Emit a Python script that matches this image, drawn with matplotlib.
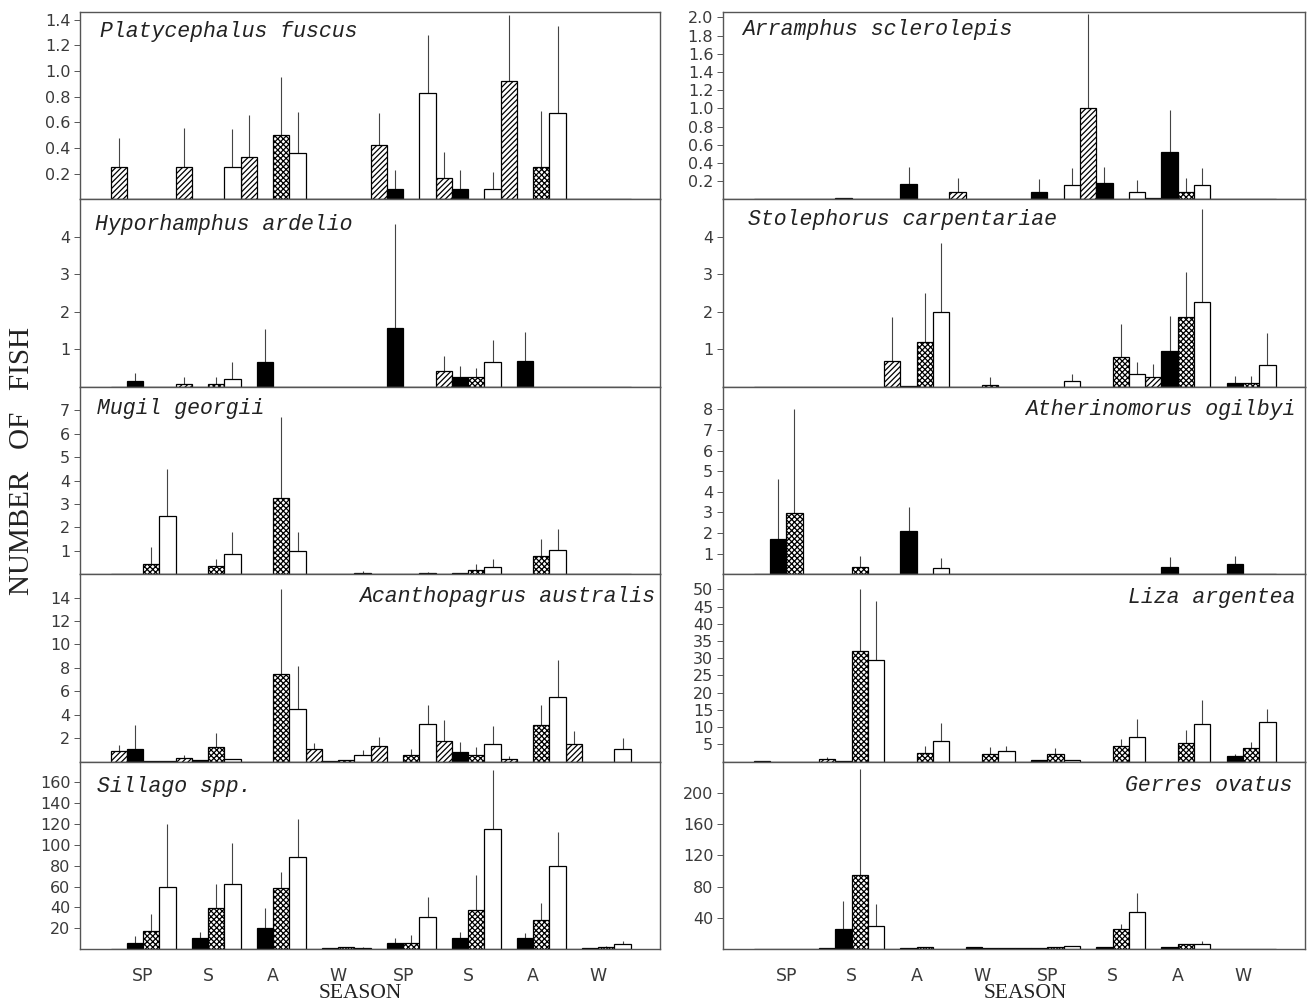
import numpy as np
import matplotlib
matplotlib.use("Agg")
import matplotlib.pyplot as plt

plt.rcParams['hatch.linewidth'] = 0.9

seasons = ["SP", "S", "A", "W", "SP", "S", "A", "W"]

# rows of each table: hatched, black, cross-hatched, white bar (8 seasons each)
platy_m = [[0.25, 0.25, 0.33, 0, 0.42, 0.17, 0.92, 0],
           [0, 0, 0, 0, 0.08, 0.08, 0, 0],
           [0, 0, 0.50, 0, 0, 0, 0.25, 0],
           [0, 0.25, 0.36, 0, 0.83, 0.08, 0.67, 0]]
platy_se = [[0.23, 0.31, 0.33, 0, 0.25, 0.20, 0.52, 0],
            [0, 0, 0, 0, 0.15, 0.15, 0, 0],
            [0, 0, 0.45, 0, 0, 0, 0.44, 0],
            [0, 0.30, 0.32, 0, 0.45, 0.13, 0.68, 0]]

hypo_m = [[0, 0.08, 0, 0, 0, 0.42, 0, 0],
          [0.15, 0, 0.67, 0, 1.57, 0.25, 0.69, 0],
          [0, 0.08, 0, 0, 0, 0.25, 0, 0],
          [0, 0.22, 0, 0, 0, 0.67, 0, 0]]
hypo_se = [[0, 0.17, 0, 0, 0, 0.40, 0, 0],
           [0.22, 0, 0.86, 0, 2.78, 0.31, 0.77, 0],
           [0, 0.17, 0, 0, 0, 0.24, 0, 0],
           [0, 0.44, 0, 0, 0, 0.59, 0, 0]]

mugil_m = [[0, 0, 0, 0, 0, 0, 0, 0],
           [0, 0, 0, 0, 0, 0.03, 0, 0],
           [0.42, 0.33, 3.25, 0, 0, 0.17, 0.78, 0],
           [2.5, 0.85, 1.0, 0.06, 0.05, 0.30, 1.05, 0]]
mugil_se = [[0, 0, 0, 0, 0, 0, 0, 0],
            [0, 0, 0, 0, 0, 0, 0, 0],
            [0.72, 0.34, 3.45, 0, 0, 0.26, 0.72, 0],
            [2.0, 0.96, 0.79, 0.06, 0.05, 0.37, 0.88, 0]]

acan_m = [[0.9, 0.3, 0, 1.05, 1.3, 1.8, 0.25, 1.5],
          [1.1, 0.15, 0, 0.05, 0, 0.8, 0, 0],
          [0.05, 1.25, 7.5, 0.15, 0.55, 0.6, 3.1, 0],
          [0.05, 0.25, 4.5, 0.55, 3.2, 1.5, 5.5, 1.05]]
acan_se = [[0.5, 0.28, 0, 0.5, 0.77, 1.72, 0.25, 1.1],
           [2.0, 0, 0, 0, 0, 0.84, 0, 0],
           [0, 1.2, 7.25, 0, 0.5, 0.67, 1.77, 0],
           [0, 0, 3.7, 0.43, 1.67, 1.5, 3.2, 1.0]]

sill_m = [[0, 0, 0, 0, 0, 0, 0, 0],
          [5.5, 11, 20, 1, 6, 11, 11, 1],
          [17, 39, 59, 1.5, 6, 37, 28, 2],
          [60, 62, 88, 1, 31, 115, 80, 5]]
sill_se = [[0, 0, 0, 0, 0, 0, 0, 0],
           [7, 5, 19, 0, 5, 5, 4, 0],
           [17, 23, 15, 0.5, 7, 34, 16, 0.5],
           [60, 40, 37, 0.5, 19, 57, 32, 2.5]]

arra_m = [[0, 0, 0, 0.08, 0, 1.0, 0.01, 0],
          [0, 0.01, 0.17, 0, 0.08, 0.18, 0.52, 0],
          [0, 0, 0, 0, 0, 0, 0.08, 0],
          [0, 0, 0, 0, 0.16, 0.08, 0.16, 0]]
arra_se = [[0, 0, 0, 0.15, 0, 1.04, 0, 0],
           [0, 0, 0.19, 0, 0.14, 0.18, 0.46, 0],
           [0, 0, 0, 0, 0, 0, 0.16, 0],
           [0, 0, 0, 0, 0.19, 0.13, 0.19, 0]]

stol_m = [[0, 0, 0.7, 0, 0, 0, 0.27, 0],
          [0, 0, 0.02, 0, 0, 0, 0.95, 0.1],
          [0, 0, 1.2, 0.05, 0, 0.8, 1.87, 0.1],
          [0, 0, 2.0, 0, 0.15, 0.35, 2.25, 0.58]]
stol_se = [[0, 0, 1.16, 0, 0, 0, 0.33, 0],
           [0, 0, 0, 0, 0, 0, 0.94, 0.2],
           [0, 0, 1.29, 0.2, 0, 0.88, 1.19, 0.2],
           [0, 0, 1.85, 0, 0.19, 0.32, 2.5, 0.86]]

ather_m = [[0, 0, 0, 0, 0, 0, 0, 0],
           [1.7, 0, 2.1, 0, 0, 0, 0.35, 0.5],
           [2.95, 0.35, 0, 0, 0, 0, 0, 0],
           [0, 0, 0.3, 0, 0, 0, 0, 0]]
ather_se = [[0, 0, 0, 0, 0, 0, 0, 0],
            [2.93, 0, 1.14, 0, 0, 0, 0.5, 0.4],
            [5.05, 0.52, 0, 0, 0, 0, 0, 0],
            [0, 0, 0.49, 0, 0, 0, 0, 0]]

liza_m = [[0.3, 0.8, 0, 0, 0, 0, 0, 0],
          [0, 0.3, 0, 0, 0.5, 0, 0, 1.5],
          [0, 32, 2.5, 2.2, 2.2, 4.5, 5.5, 4],
          [0, 29.5, 6, 3, 0.5, 7, 11, 11.5]]
liza_se = [[0, 0.5, 0, 0, 0, 0, 0, 0],
           [0, 0, 0, 0, 0, 0, 0, 0.8],
           [0, 18, 2, 2, 1.8, 2.2, 3.8, 1.8],
           [0, 17, 5.3, 1.5, 0, 5.3, 7, 3.7]]

gerr_m = [[0, 1, 0, 0, 1, 0, 0, 0],
          [0, 25, 1, 3, 1, 2, 3, 0],
          [0, 95, 3, 1, 2, 25, 6, 0],
          [0, 30, 0, 1, 4, 47, 7, 0]]
gerr_se = [[0, 0, 0, 0, 0, 0, 0, 0],
           [0, 36, 0, 0, 0, 0, 0, 0],
           [0, 135, 0, 0, 0, 7, 0, 0],
           [0, 28, 0, 0, 0, 25, 3, 0]]

fills = ["white", "black", "white", "white"]
hatches = ["//////", None, "xxxxxx", None]
offs = [-0.375, -0.125, 0.125, 0.375]

# name, means, se, ymax, ticks, side, title x, title y
left = [("Platycephalus fuscus", platy_m, platy_se, 1.46, np.arange(0.2, 1.41, 0.2), "left", 0.034, 0.898),
        ("Hyporhamphus ardelio", hypo_m, hypo_se, 5.0, [1, 2, 3, 4], "left", 0.026, 0.866),
        ("Mugil georgii", mugil_m, mugil_se, 8.0, range(1, 8), "left", 0.029, 0.882),
        ("Acanthopagrus australis", acan_m, acan_se, 16.0, range(2, 15, 2), "right", 0.991, 0.882),
        ("Sillago spp.", sill_m, sill_se, 180, range(20, 161, 20), "left", 0.029, 0.866)]
right = [("Arramphus sclerolepis", arra_m, arra_se, 2.06, np.arange(0.2, 2.01, 0.2), "left", 0.033, 0.904),
         ("Stolephorus carpentariae", stol_m, stol_se, 5.0, [1, 2, 3, 4], "left", 0.043, 0.893),
         ("Atherinomorus ogilbyi", ather_m, ather_se, 9.1, range(1, 9), "right", 0.983, 0.877),
         ("Liza argentea", liza_m, liza_se, 54.4, range(5, 51, 5), "right", 0.983, 0.877),
         ("Gerres ovatus", gerr_m, gerr_se, 240, range(40, 201, 40), "right", 0.978, 0.872)]

fig = plt.figure(figsize=(13.1, 10.05), dpi=100)
W, H = 1310, 1005
rowh = 187.4

def panel(col_x, col_w, r, spec, bottom):
    name, m, se, ymax, ticks, side, tx, ty = spec
    top = 12 + r * rowh
    ax = fig.add_axes([col_x / W, 1 - (top + rowh) / H, col_w / W, rowh / H])
    x = np.arange(8)
    for k in range(4):
        ax.bar(x + offs[k], m[k], 0.25, color=fills[k], edgecolor="black",
               hatch=hatches[k], linewidth=0.9, zorder=2)
        e = np.array(se[k])
        v = np.array(m[k])
        sel = e > 0
        ax.errorbar((x + offs[k])[sel], v[sel], yerr=[np.zeros(sel.sum()), e[sel]],
                    fmt="none", ecolor="#444444", elinewidth=0.8, capsize=0, zorder=1)
    ax.set_xlim(-0.97, 7.95)
    ax.set_ylim(0, ymax)
    ax.set_yticks(list(ticks))
    if isinstance(ticks, np.ndarray):
        ax.set_yticklabels(["%.1f" % t for t in ticks])
    ax.tick_params(axis="y", direction="out", length=4, width=0.7, color="#555555",
                   labelsize=11.5, labelcolor="#3a3a3a", pad=3)
    if bottom:
        ax.set_xticks(x)
        ax.set_xticklabels(seasons)
        ax.tick_params(axis="x", length=0, pad=13, labelsize=12.5, labelcolor="#3a3a3a")
    else:
        ax.set_xticks([])
    for s in ax.spines.values():
        s.set_color("#555555")
        s.set_linewidth(1.0)
    ax.text(tx, ty, name, transform=ax.transAxes, ha=side, va="center",
            family="Liberation Mono", style="italic", fontsize=15.5, color="#222222")
    return ax

for r, spec in enumerate(left):
    panel(80, 580, r, spec, r == 4)
for r, spec in enumerate(right):
    panel(723, 582, r, spec, r == 4)

fig.text(360 / W, 1 - 993 / H, "SEASON", ha="center", va="center",
         family="Liberation Serif", fontsize=15.5, color="#222222")
fig.text(1025 / W, 1 - 993 / H, "SEASON", ha="center", va="center",
         family="Liberation Serif", fontsize=15.5, color="#222222")
fig.text(22 / W, 1 - 461 / H, "NUMBER   OF   FISH", rotation=90, ha="center", va="center",
         family="Liberation Serif", fontsize=21, color="#222222")

fig.savefig("out.png", dpi=100, facecolor="white")
